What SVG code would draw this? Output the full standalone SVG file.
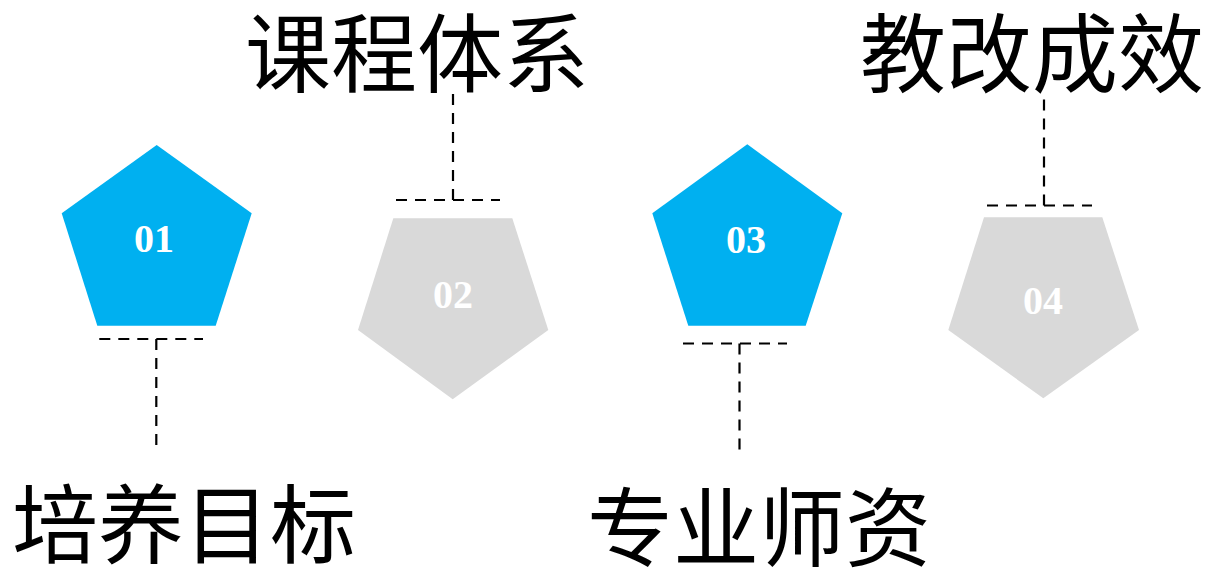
<svg xmlns="http://www.w3.org/2000/svg" width="1208" height="571" viewBox="0 0 1208 571">
<style>
.blue{fill:#00B0F0}
.gray{fill:#D9D9D9}
.num{font-family:"Liberation Serif","DejaVu Serif",serif;font-weight:bold;font-size:40px;fill:#FFFFFF;text-anchor:middle}
.title{font-family:"Noto Sans CJK SC","Noto Sans",sans-serif;font-size:86px;fill:#000000}
.dash{fill:none;stroke:#000000;stroke-width:2.2;stroke-dasharray:11 8}
</style>
<rect width="1208" height="571" fill="#FFFFFF"/>
<g id="node1">
<polygon class="blue" points="156.7,145 251.7,213.3 215.7,325.7 97.3,325.7 61.7,213.3"/>
<text class="num" x="154" y="252">01</text>
</g>
<g id="node2">
<polygon class="gray" points="393.3,218.3 512.3,218.3 548.3,330 452.7,399.3 358,330"/>
<text class="num" x="453" y="307.5">02</text>
</g>
<g id="node3">
<polygon class="blue" points="747.3,144.3 842.3,213.3 805.7,325.7 688.3,325.7 652.3,213.3"/>
<text class="num" x="746" y="252.5">03</text>
</g>
<g id="node4">
<polygon class="gray" points="984,217.3 1102.3,217.3 1139,330 1043.3,398.3 948.3,330"/>
<text class="num" x="1043" y="313.5">04</text>
</g>
<g id="connectors">
<line class="dash" x1="99.3" y1="339" x2="203" y2="339"/>
<line class="dash" x1="156.3" y1="339" x2="156.3" y2="453"/>
<line class="dash" x1="396" y1="200" x2="500" y2="200"/>
<line class="dash" x1="453" y1="200" x2="453" y2="87"/>
<line class="dash" x1="683" y1="343.5" x2="787" y2="343.5"/>
<line class="dash" x1="739.5" y1="343.5" x2="739.5" y2="457"/>
<line class="dash" x1="987" y1="205.5" x2="1092" y2="205.5"/>
<line class="dash" x1="1044" y1="205.5" x2="1044" y2="92"/>
</g>
<g id="labels">
<text class="title" x="245" y="86">课程体系</text>
<text class="title" x="860" y="86">教改成效</text>
<text class="title" x="12" y="557">培养目标</text>
<text class="title" x="587" y="560">专业师资</text>
</g>
</svg>
